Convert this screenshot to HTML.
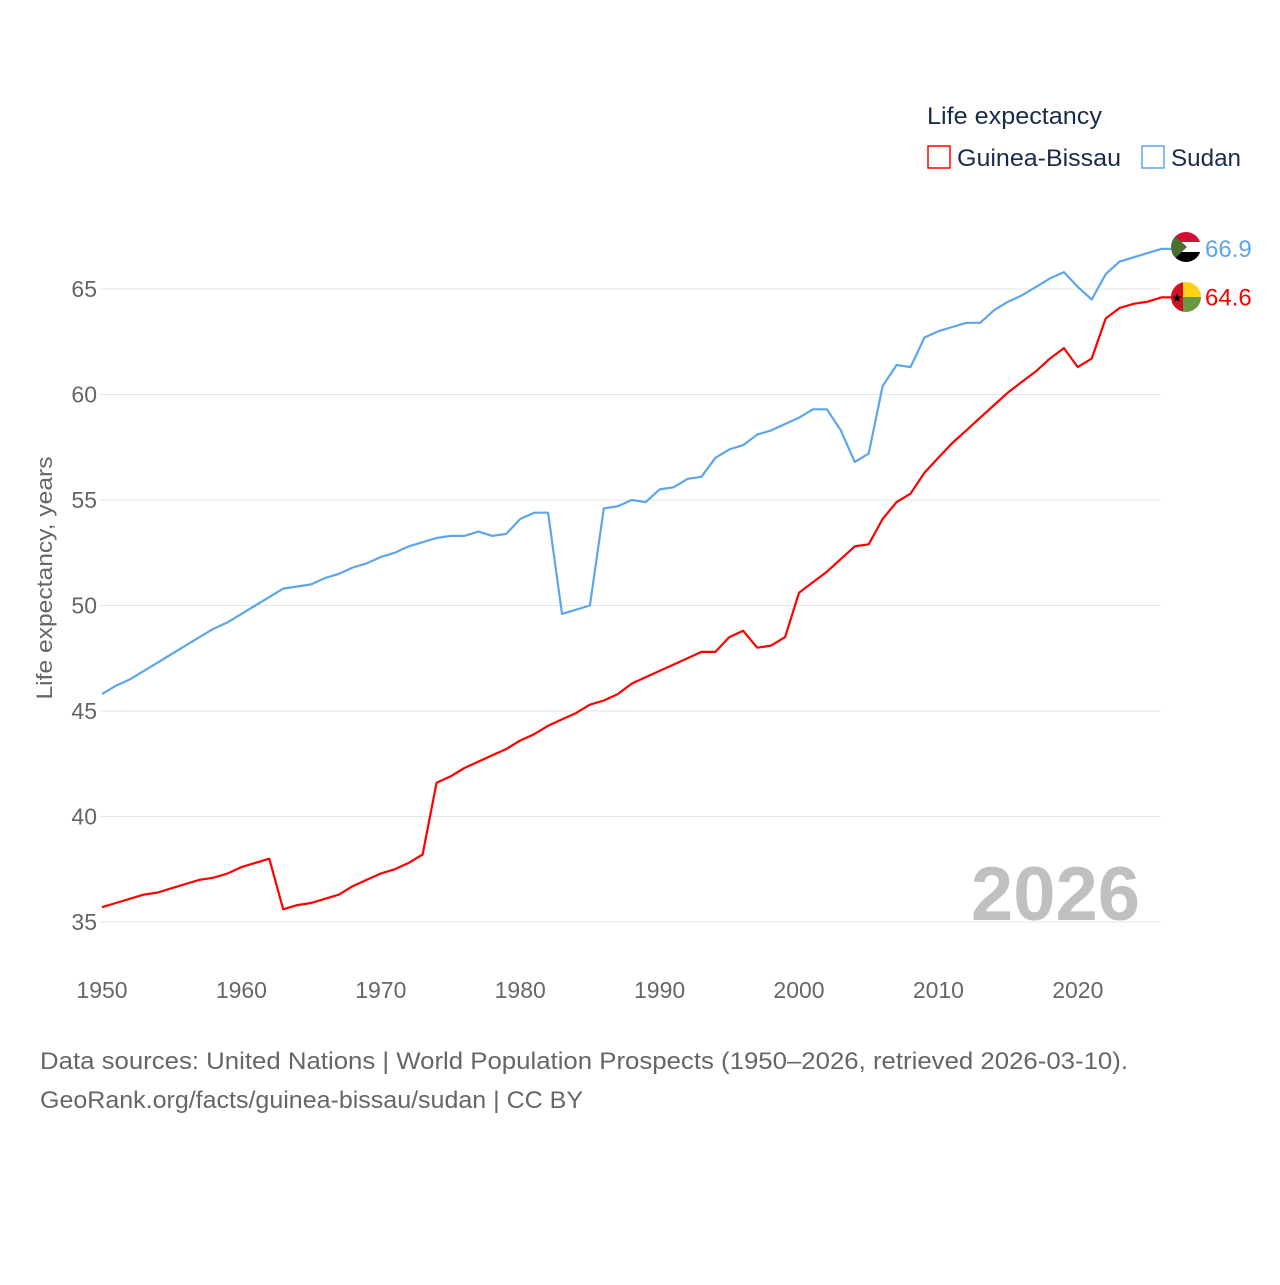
<!DOCTYPE html>
<html><head><meta charset="utf-8"><style>
body{margin:0;background:#fff;}
svg text{font-family:"Liberation Sans",sans-serif;}
</style></head><body>
<svg width="1280" height="1280" viewBox="0 0 1280 1280">
<g id="grid"></g>
<g id="yt"></g>
<g id="xt"></g>
<text x="52" y="578" transform="rotate(-90 52 578)" text-anchor="middle" font-size="22" fill="#666" textLength="243" lengthAdjust="spacingAndGlyphs">Life expectancy, years</text>
<text x="1140" y="920" text-anchor="end" font-size="76" font-weight="bold" fill="#c0c0c0">2026</text>
<g id="lines"></g>
<g>
<text x="927" y="124" font-size="24" fill="#1a2b4a" textLength="175" lengthAdjust="spacingAndGlyphs">Life expectancy</text>
<g><rect x="928" y="146" width="22" height="22" fill="none" stroke="#f00" stroke-width="1.5"/><text x="957" y="166" font-size="24" fill="#1a2b4a" textLength="164" lengthAdjust="spacingAndGlyphs">Guinea-Bissau</text></g>
<g><rect x="1142" y="146" width="22" height="22" fill="none" stroke="#5ea6ec" stroke-width="1.5"/><text x="1171" y="166" font-size="24" fill="#1a2b4a" textLength="70" lengthAdjust="spacingAndGlyphs">Sudan</text></g>
</g>
<g id="ends"></g>
<text x="40" y="1069" font-size="24" fill="#666" textLength="1088" lengthAdjust="spacingAndGlyphs">Data sources: United Nations | World Population Prospects (1950–2026, retrieved 2026-03-10).</text>
<text x="40" y="1108" font-size="24" fill="#666" textLength="543" lengthAdjust="spacingAndGlyphs">GeoRank.org/facts/guinea-bissau/sudan | CC BY</text>
<defs>
<clipPath id="c1"><circle cx="1186" cy="247" r="15"/></clipPath>
<clipPath id="c2"><circle cx="1186" cy="297" r="15"/></clipPath>
</defs>
</svg>
<script>
const startYear = 1950;
const yTicks = [35,40,45,50,55,60,65];
const xTicks = [1950,1960,1970,1980,1990,2000,2010,2020];
const sudan = [45.8,46.2,46.5,46.9,47.3,47.7,48.1,48.5,48.9,49.2,49.6,50.0,50.4,50.8,50.9,51.0,51.3,51.5,51.8,52.0,52.3,52.5,52.8,53.0,53.2,53.3,53.3,53.5,53.3,53.4,54.1,54.4,54.4,49.6,49.8,50.0,54.6,54.7,55.0,54.9,55.5,55.6,56.0,56.1,57.0,57.4,57.6,58.1,58.3,58.6,58.9,59.3,59.3,58.3,56.8,57.2,60.4,61.4,61.3,62.7,63.0,63.2,63.4,63.4,64.0,64.4,64.7,65.1,65.5,65.8,65.1,64.5,65.7,66.3,66.5,66.7,66.9];
const guineaBissau = [35.7,35.9,36.1,36.3,36.4,36.6,36.8,37.0,37.1,37.3,37.6,37.8,38.0,35.6,35.8,35.9,36.1,36.3,36.7,37.0,37.3,37.5,37.8,38.2,41.6,41.9,42.3,42.6,42.9,43.2,43.6,43.9,44.3,44.6,44.9,45.3,45.5,45.8,46.3,46.6,46.9,47.2,47.5,47.8,47.8,48.5,48.8,48.0,48.1,48.5,50.6,51.1,51.6,52.2,52.8,52.9,54.1,54.9,55.3,56.3,57.0,57.7,58.3,58.9,59.5,60.1,60.6,61.1,61.7,62.2,61.3,61.7,63.6,64.1,64.3,64.4,64.6];
const NS='http://www.w3.org/2000/svg';
const X = yr => 102 + (yr-1950)*13.94;
const Y = v => 922 - (v-35)*21.1;
function mk(tag, attrs, parent){const e=document.createElementNS(NS,tag);for(const k in attrs)e.setAttribute(k,attrs[k]);parent.appendChild(e);return e;}
const grid=document.getElementById('grid'), yt=document.getElementById('yt'), xt=document.getElementById('xt');
yTicks.forEach(t=>{
  const l=mk('line',{x1:100,x2:1161,y1:Y(t),y2:Y(t),stroke:'#e6e6e6','stroke-width':1},grid);
  
  
  const tx=mk('text',{x:97,y:Y(t)+8,'text-anchor':'end','font-size':23,fill:'#666'},yt);
  tx.textContent=t;
  
  
});
xTicks.forEach(t=>{
  const tx=mk('text',{x:X(t),y:998,'text-anchor':'middle','font-size':23,fill:'#666'},xt);
  tx.textContent=t;
  
  
});
const lines=document.getElementById('lines');
function draw(arr,color,name){
  let d=arr.map((v,i)=>(i?'L':'M')+X(startYear+i).toFixed(1)+','+Y(v).toFixed(1)).join('');
  d+='L1172,'+Y(arr[arr.length-1]).toFixed(1);
  const p=mk('path',{d:d,fill:'none',stroke:color,'stroke-width':2.2,'stroke-linejoin':'round'},lines);
  
  
}
draw(sudan,'#5ea6ec','line-sudan');
draw(guineaBissau,'#f00','line-guinea-bissau');
const ends=document.getElementById('ends');
const ls=sudan[sudan.length-1], lg=guineaBissau[guineaBissau.length-1];
const e1=mk('text',{x:1205,y:Y(ls)+8,'font-size':24,fill:'#5ea6ec'},ends); e1.textContent=ls.toFixed(1);


const e2=mk('text',{x:1205,y:Y(lg)+8,'font-size':24,fill:'#f00'},ends); e2.textContent=lg.toFixed(1);


const f1=mk('g',{'clip-path':'url(#c1)'},ends);


mk('rect',{x:1171,y:232,width:30,height:10,fill:'#d21034'},f1);
mk('rect',{x:1171,y:242,width:30,height:10,fill:'#fff'},f1);
mk('rect',{x:1171,y:252,width:30,height:10,fill:'#000'},f1);
mk('polygon',{points:'1171,232 1187,247 1171,262',fill:'#4a7030'},f1);
const f2=mk('g',{'clip-path':'url(#c2)'},ends);


mk('rect',{x:1171,y:282,width:12,height:30,fill:'#ce1126'},f2);
mk('rect',{x:1183,y:282,width:18,height:15,fill:'#fcd116'},f2);
mk('rect',{x:1183,y:297,width:18,height:15,fill:'#6a9a40'},f2);
const st=mk('text',{x:1177,y:302,'font-size':12,'text-anchor':'middle',fill:'#000'},f2); st.textContent='★';
</script>
</body></html>
